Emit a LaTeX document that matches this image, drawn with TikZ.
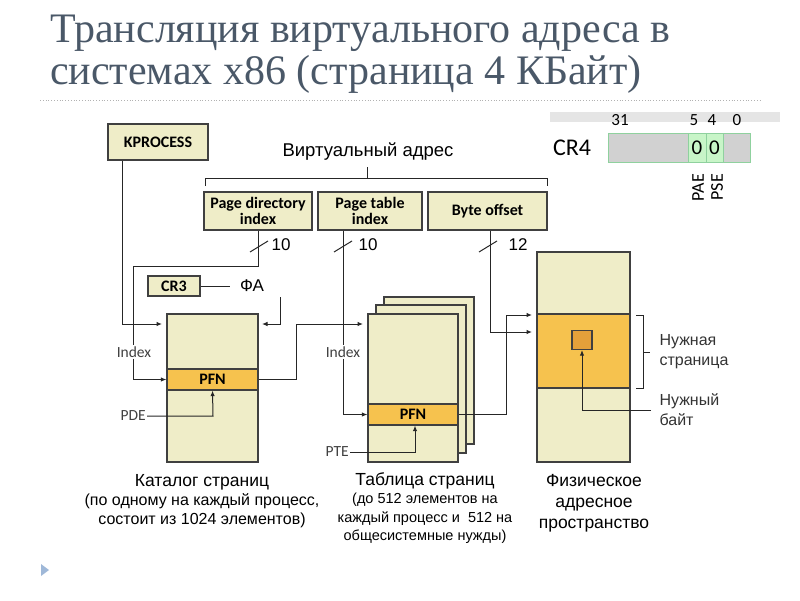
\documentclass[tikz,border=0pt]{standalone}
\usepackage{fontspec}
\setmainfont{Liberation Sans}
\newfontfamily\ttlfnt{Liberation Serif}
\newfontfamily\calfnt{Carlito}
\usetikzlibrary{arrows.meta}
\definecolor{beige}{HTML}{EFEDC8}
\definecolor{band}{HTML}{F6C24E}
\definecolor{sq}{HTML}{E3A03A}
\definecolor{ttlc}{HTML}{4A5868}
\definecolor{grn}{HTML}{8FD19E}
\definecolor{lgrn}{HTML}{C8F5C8}
\definecolor{tric}{HTML}{9FB8D8}
\begin{document}
\begin{tikzpicture}[x=1pt,y=-1pt,
  bx/.style={draw=black!75,line width=1.2pt,fill=beige,inner sep=0pt,font=\calfnt\bfseries\fontsize{16}{16}\selectfont,align=center},
  ln/.style={line width=1pt,black!85},
  ar/.style={ln,-{Latex[length=5.5pt,width=4.5pt]}},
  lab/.style={font=\fontsize{17}{18}\selectfont,inner sep=1pt},
  sm/.style={font=\calfnt\fontsize{15.5}{16}\selectfont,inner sep=1pt,text=black!75},
  capt/.style={align=center,font=\fontsize{16}{19}\selectfont}]
\useasboundingbox (0,0) rectangle (800,600);
% title
\node[anchor=base west,inner sep=0,text=ttlc,font=\ttlfnt\fontsize{42}{42}\selectfont] (t1) at (50,42) {Трансляция виртуального адреса в};
\node[anchor=base west,inner sep=0,text=ttlc,font=\ttlfnt\fontsize{42}{42}\selectfont] (t2) at (50,84) {системах x86 (страница 4 КБайт)};
\draw[black!30,dotted,line width=0.8pt] (40,100) -- (760,100);
\fill[tric] (41,564) -- (49,570) -- (41,576) -- cycle;
% top boxes
\node[bx,minimum width=100,minimum height=36] (kp) at (158,142) {KPROCESS};
\node[lab,font=\fontsize{18.5}{19}\selectfont] (va) at (368,152) {Виртуальный адрес};
\draw[ln] (205,186) -- (205,178) -- (547,178) -- (547,186);
\coordinate (bm) at (367,178); \coordinate (bt) at (367,167);
\draw[ln] (bm) -- (bt);
\node[bx,minimum width=108,minimum height=38] (pdi) at (258,211) {Page directory\\index};
\node[bx,minimum width=104,minimum height=38] (pti) at (370,211) {Page table\\index};
\node[bx,minimum width=119,minimum height=38] (bo) at (487.5,211) {Byte offset};
% page directory
\node[draw=black!75,line width=1.2pt,fill=beige,minimum width=91,minimum height=148,inner sep=0] (pd) at (212.5,388) {};
\node[draw=black!75,line width=1.2pt,fill=band,minimum width=91,minimum height=21,inner sep=0,font=\calfnt\bfseries\fontsize{16}{16}\selectfont] (pfn1) at (212.5,379.5) {PFN};
\node[bx,minimum width=52,minimum height=20] (cr3) at (174,286) {CR3};
\node[lab] (fa) at (252,286) {ФА};
\draw[ln] (cr3.east) -- (230,286);
% page tables
\node[draw=black!75,line width=1.2pt,fill=beige,minimum width=90,minimum height=147,inner sep=0] (pt3) at (429,370.5) {};
\node[draw=black!75,line width=1.2pt,fill=beige,minimum width=90,minimum height=148,inner sep=0] (pt2) at (421,379) {};
\node[draw=black!75,line width=1.2pt,fill=beige,minimum width=90,minimum height=148,inner sep=0] (pt) at (413,388) {};
\node[draw=black!75,line width=1.2pt,fill=band,minimum width=90,minimum height=21,inner sep=0,font=\calfnt\bfseries\fontsize{16}{16}\selectfont] (pfn2) at (413,414.5) {PFN};
% physical memory
\node[draw=black!75,line width=1.2pt,fill=beige,minimum width=93,minimum height=210,inner sep=0] (pm) at (583.5,357) {};
\node[draw=black!75,line width=1.2pt,fill=band,minimum width=93,minimum height=74,inner sep=0] (pg) at (583.5,351) {};
\node[draw=black!75,line width=1.2pt,fill=sq,minimum width=20,minimum height=19,inner sep=0] (by) at (582,340) {};
% labels
\node[sm] (ix1) at (134,352) {Index};
\node[sm,fill=white] (ix2) at (343,352) {Index};
\node[sm,anchor=east] (pde) at (147,416) {PDE};
\node[sm,anchor=east] (pte) at (350,452) {PTE};
% connectors
\draw[ar] (kp.south -| 122,0) -- (122,324) -- (162,324);
\draw[ln] (pdi.south) -- (258,266) -- (133,266) -- (ix1.north -| 133,0);
\draw[ar] (ix1.south -| 133,0) -- (133,379.5) -- (pfn1.west);
\draw[ar] (280,297) -- (280,324) -- (262,324);
\draw[ar] (pde.east) -- (213,416) -- (pfn1.south);
\draw[ar] (pfn1.east) -- (296,379.5) -- (296,324) -- (363,324);
\draw[ln] (pti.south -| 343,0) -- (ix2.north);
\draw[ar] (ix2.south) -- (343,414.5) -- (pfn2.west);
\draw[ar] (pte.east) -- (415,452) -- (pfn2.south -| 415,0);
\draw[ar] (pfn2.east) -- (506,414.5) -- (506,315) -- (532,315);
\draw[ar] (bo.south -| 490,0) -- (490,332) -- (532,332);
% slashes
\draw[ln] (250,252) -- (268,241);
\draw[ln] (334,252) -- (352,241);
\draw[ln] (479,252) -- (497,241);
\node[lab] (n1) at (281,245) {10};
\node[lab] (n2) at (368,245) {10};
\node[lab] (n3) at (518,245) {12};
% right annotations
\draw[ln] (636,315) -- (643,315) -- (643,388) -- (636,388);
\coordinate (bk) at (650,352); \draw[ln] (643,352) -- (bk);
\node[capt,anchor=west,align=left,text=black!80,font=\fontsize{16}{20}\selectfont] (nst) at (656,352) {Нужная\\страница};
\node[capt,anchor=west,align=left,text=black!80,font=\fontsize{16}{20}\selectfont] (nb) at (656,410) {Нужный\\байт};
\draw[ar] (651,410) -- (582,410) -- (by.south);
% bottom captions
\node[capt] (c1) at (202,501) {\fontsize{17.5}{20}\selectfont Каталог страниц\\(по одному на каждый процесс,\\состоит из 1024 элементов)};
\node[capt,font=\fontsize{14.5}{18.5}\selectfont] (c2) at (425,508) {\fontsize{17.5}{18.5}\selectfont Таблица страниц\\(до 512 элементов на\\каждый процесс и\ \ 512 на\\общесистемные нужды)};
\node[capt,font=\fontsize{17.5}{21}\selectfont] (c3) at (594,503) {Физическое\\адресное\\пространство};
% CR4
\fill[black!10] (550,112) rectangle (780,122);
\node[font=\calfnt\fontsize{17}{17}\selectfont] (b31) at (620,120) {31};
\node[font=\calfnt\fontsize{17}{17}\selectfont] (b5) at (694,120) {5};
\node[font=\calfnt\fontsize{17}{17}\selectfont] (b4) at (712,120) {4};
\node[font=\calfnt\fontsize{17}{17}\selectfont] (b0) at (737,120) {0};
\node[font=\calfnt\fontsize{24}{24}\selectfont] (cr4) at (572,148) {CR4};
\node[draw=grn,fill=black!18,line width=1pt,minimum width=142,minimum height=29,inner sep=0] (reg) at (679,147.5) {};
\node[draw=grn,fill=lgrn,line width=1pt,minimum width=18,minimum height=29,inner sep=0,font=\calfnt\fontsize{21}{21}\selectfont] (c5) at (697,147.5) {0};
\node[draw=grn,fill=lgrn,line width=1pt,minimum width=17,minimum height=29,inner sep=0,font=\calfnt\fontsize{21}{21}\selectfont] (c4) at (714.5,147.5) {0};
\node[rotate=90,anchor=east,font=\calfnt\fontsize{18}{18}\selectfont,inner sep=0] (pae) at (698,174) {PAE};
\node[rotate=90,anchor=east,font=\calfnt\fontsize{18}{18}\selectfont,inner sep=0] (pse) at (717,174) {PSE};
\end{tikzpicture}
\end{document}
